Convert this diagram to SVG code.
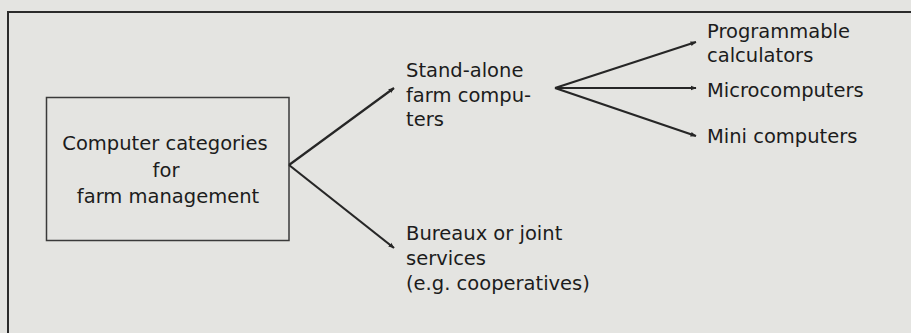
<svg xmlns="http://www.w3.org/2000/svg" width="911" height="333" viewBox="0 0 911 333">
  <style>
    .bg { fill: #e4e4e1; }
    .frame { fill: none; stroke: #2b2b2b; stroke-width: 2; }
    .box { fill: none; stroke: #3a3a3a; stroke-width: 1.5; }
    .label { font-family: "DejaVu Sans", "Open Sans", sans-serif; font-size: 19.5px; fill: #1c1c1c; }
    .mid { text-anchor: middle; }
    .conn { fill: none; stroke: #262626; stroke-width: 2.2; marker-end: url(#arrow); }
  </style>
  <defs>
    <marker id="arrow" viewBox="0 0 10 10" refX="9" refY="5" markerWidth="6" markerHeight="6" markerUnits="userSpaceOnUse" orient="auto">
      <path d="M0,1 L10,5 L0,9 z" fill="#262626"/>
    </marker>
  </defs>

  <rect class="bg" x="0" y="0" width="911" height="333"/>
  <!-- page frame -->
  <path class="frame" d="M8,333 V12 H911"/>

  <g id="root">
    <rect class="box" x="46.5" y="97.5" width="242.5" height="143"/>
    <text class="label mid" x="165" y="150">Computer categories</text>
    <text class="label mid" x="166" y="177">for</text>
    <text class="label mid" x="168" y="203">farm management</text>
  </g>

  <g id="standalone">
    <text class="label" x="406" y="77">Stand-alone</text>
    <text class="label" x="406" y="102">farm compu-</text>
    <text class="label" x="406" y="126">ters</text>
  </g>

  <g id="bureaux">
    <text class="label" x="406" y="240">Bureaux or joint</text>
    <text class="label" x="406" y="265">services</text>
    <text class="label" x="406" y="290">(e.g. cooperatives)</text>
  </g>

  <g id="programmable">
    <text class="label" x="707" y="38">Programmable</text>
    <text class="label" x="707" y="62">calculators</text>
  </g>

  <g id="micro">
    <text class="label" x="707" y="97">Microcomputers</text>
  </g>

  <g id="mini">
    <text class="label" x="707" y="143">Mini computers</text>
  </g>

  <g id="connectors">
    <path class="conn" d="M289,165 L394,88"/>
    <path class="conn" d="M289,165 L394,248"/>
    <path class="conn" d="M555,88 L696,42"/>
    <path class="conn" d="M555,88 L696,88"/>
    <path class="conn" d="M555,88 L696,136"/>
  </g>
</svg>
